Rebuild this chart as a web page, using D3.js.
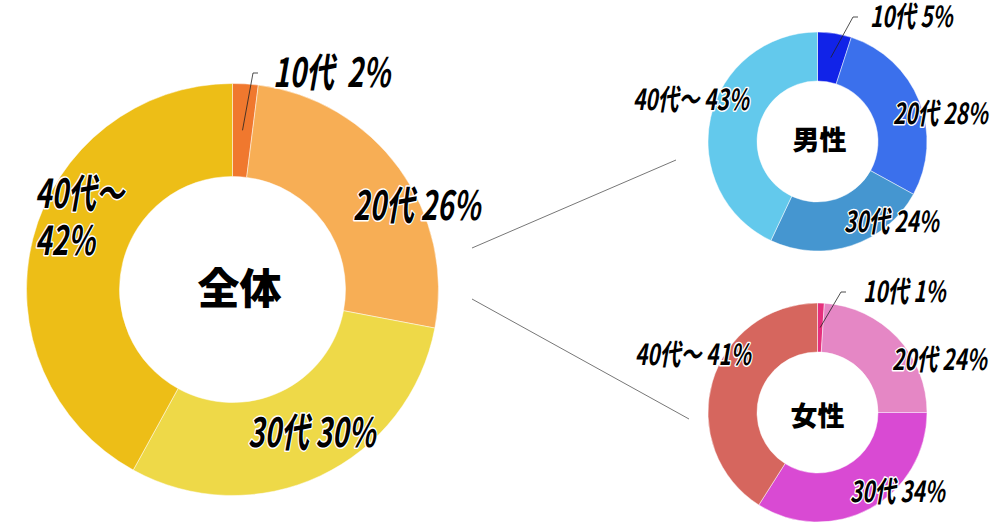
<!DOCTYPE html>
<html>
<head>
<meta charset="utf-8">
<script src="https://cdn.jsdelivr.net/npm/d3@7"></script>
<style>
  body { margin: 0; background: #fff; }
  svg { display: block; }
</style>
</head>
<body>
<div id="chart"></div>
<script>
// data
const ageGroups = ["10代", "20代", "30代", "40代～"];
const totalValues = [2, 26, 30, 42];
const maleValues = [5, 28, 24, 43];
const femaleValues = [1, 24, 34, 41];

const totalColors = ["#f0782e", "#f7ae55", "#eed948", "#edbe17"];
const maleColors = ["#1123e8", "#3b70ec", "#4596d0", "#63c9ec"];
const femaleColors = ["#e5307c", "#e587c5", "#d94ad3", "#d6665e"];

var width = 1000, height = 530;

var svg = d3.select("#chart")
    .append("svg")
    .attr("width", width)
    .attr("height", height);

const fontFamily = "'Noto Sans CJK JP', 'Noto Sans', sans-serif";

// gray connector lines from the big donut to the small ones
const connectors = [
    [[472, 248], [676, 160]],
    [[472, 299], [689, 419]]
];
svg.append("g")
    .selectAll("line")
    .data(connectors)
    .enter().append("line")
    .attr("x1", d => d[0][0]).attr("y1", d => d[0][1])
    .attr("x2", d => d[1][0]).attr("y2", d => d[1][1])
    .attr("stroke", "#777")
    .attr("stroke-width", 1);

function draw_donut(opts) {
    var g = svg.append("g")
        .attr("transform", "translate(" + opts.cx + "," + opts.cy + ")");

    var pie = d3.pie().sort(null).value(d => d);
    var arcs = pie(opts.values);
    var arc = d3.arc().innerRadius(opts.inner).outerRadius(opts.outer);

    g.selectAll("path")
        .data(arcs)
        .enter().append("path")
        .attr("d", arc)
        .attr("fill", (d, i) => opts.colors[i])
        .attr("stroke", "rgba(255,255,255,0.6)")
        .attr("stroke-width", 0.8);

    // center title
    g.append("text")
        .attr("x", opts.titleDx)
        .attr("y", opts.titleDy)
        .attr("text-anchor", "middle")
        .attr("dominant-baseline", "central")
        .attr("font-family", fontFamily)
        .attr("font-weight", 900)
        .attr("font-size", opts.titleSize)
        .text(opts.title);

    // leader line for the thin first slice
    var c = arc.centroid(arcs[0]);
    var lp = opts.labelPos[0];
    var elbow = [lp[0] + opts.leader[0], lp[1] + opts.leader[1]];
    g.append("path")
        .attr("d", d3.line()([c, elbow, [elbow[0] + 5, elbow[1]]]))
        .attr("fill", "none")
        .attr("stroke", "#222")
        .attr("stroke-width", 0.8);

    // slice labels
    arcs.forEach(function (d, i) {
        var lines = opts.labelText[i];
        var p = opts.labelPos[i];
        var t = g.append("text")
            .attr("transform", "translate(" + p[0] + "," + p[1] + ") scale(" + opts.squeeze + ",1)")
            .attr("font-family", fontFamily)
            .attr("font-style", "italic")
            .attr("font-weight", 700)
            .attr("font-size", opts.labelSize)
            .attr("fill", "#000")
            .attr("stroke", "#fff")
            .attr("stroke-width", 3)
            .attr("stroke-linejoin", "round")
            .attr("paint-order", "stroke")
            .style("white-space", "pre");
        lines.forEach(function (s, k) {
            t.append("tspan")
                .attr("x", 0)
                .attr("y", k * opts.lineGap)
                .text(s);
        });
    });
}

draw_donut({
    cx: 232.5, cy: 289.5, outer: 206, inner: 113,
    values: totalValues, colors: totalColors,
    title: "全体", titleSize: 42, titleDx: 7, titleDy: -4,
    labelSize: 40, squeeze: 0.7, lineGap: 47,
    labelText: [
        [ageGroups[0] + "\u00a0\u00a0" + totalValues[0] + "%"],
        [ageGroups[1] + " " + totalValues[1] + "%"],
        [ageGroups[2] + " " + totalValues[2] + "%"],
        [ageGroups[3], totalValues[3] + "%"]
    ],
    labelPos: [[40.5, -202.5], [120.5, -69.5], [15.5, 157.5], [-197.5, -81.5]],
    leader: [-20, -14]
});

draw_donut({
    cx: 817.5, cy: 141.5, outer: 109.5, inner: 60.5,
    values: maleValues, colors: maleColors,
    title: "男性", titleSize: 27, titleDx: 2, titleDy: -3,
    labelSize: 29, squeeze: 0.72, lineGap: 30,
    labelText: ageGroups.map((a, i) => [a + " " + maleValues[i] + "%"]),
    labelPos: [[52.5, -114.5], [75.5, -17.5], [26.5, 90.5], [-184.5, -31.5]],
    leader: [-17, -10]
});

draw_donut({
    cx: 817.5, cy: 412.5, outer: 109.5, inner: 60.5,
    values: femaleValues, colors: femaleColors,
    title: "女性", titleSize: 27, titleDx: 0, titleDy: 2,
    labelSize: 29, squeeze: 0.72, lineGap: 30,
    labelText: ageGroups.map((a, i) => [a + " " + femaleValues[i] + "%"]),
    labelPos: [[45.5, -110.5], [74.5, -42.5], [32.5, 89.5], [-182.5, -47.5]],
    leader: [-22, -10]
});
</script>
</body>
</html>
